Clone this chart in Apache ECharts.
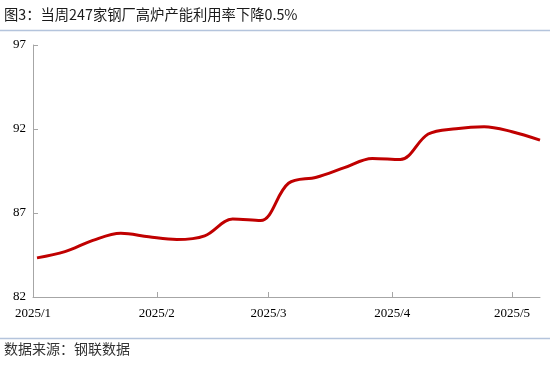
<!DOCTYPE html>
<html><head><meta charset="utf-8">
<script src="https://cdn.jsdelivr.net/npm/echarts@6/dist/echarts.min.js"></script>
<style>html,body{margin:0;padding:0;background:#fff}#c{width:550px;height:366px}</style>
</head><body><div id="c"></div>
<script>
const titleText = '图3：当周247家钢厂高炉产能利用率下降0.5%';
const sourceText = '数据来源：钢联数据';
const dates = ['2025-01-02','2025-01-09','2025-01-16','2025-01-23','2025-01-30','2025-02-06','2025-02-13','2025-02-20','2025-02-27','2025-03-06','2025-03-13','2025-03-20','2025-03-27','2025-04-03','2025-04-10','2025-04-17','2025-04-24','2025-05-01','2025-05-08'];
const values = [84.33,84.70,85.37,85.79,85.58,85.42,85.64,86.64,86.55,88.77,89.13,89.70,90.25,90.18,91.70,92.02,92.14,91.84,91.34];
const tickDates = ['2025-01-01','2025-02-01','2025-03-01','2025-04-01','2025-05-01'];
const tickLabels = ['2025/1','2025/2','2025/3','2025/4','2025/5'];
const axisStart = '2025-01-01';
const axisEnd = '2025-05-08';
const yMin = 82, yMax = 97, yStep = 5;

function dayOffset(s){
  const p = s.split('-').map(Number);
  const q = axisStart.split('-').map(Number);
  return Math.round((Date.UTC(p[0],p[1]-1,p[2]) - Date.UTC(q[0],q[1]-1,q[2]))/86400000);
}
const tickOffsets = tickDates.map(dayOffset);
const seriesData = dates.map((d,i)=>[dayOffset(d), values[i]]);

const chart = echarts.init(document.getElementById('c'), null, {renderer:'canvas'});
chart.setOption({
  animation:false,
  backgroundColor:'#fff',
  grid:{left:33, right:10, top:45, bottom:69},
  xAxis:{
    type:'value', min:0, max:dayOffset(axisEnd),
    axisLine:{show:true, lineStyle:{color:'#A6A6A6', width:1}},
    axisTick:{show:true, inside:true, length:5, customValues:tickOffsets.slice(1), lineStyle:{color:'#A6A6A6'}},
    axisLabel:{customValues:tickOffsets, margin:10, color:'#000', fontFamily:'Liberation Serif', fontSize:13,
      formatter:function(v){ const i = tickOffsets.indexOf(Math.round(v)); return i>=0 ? tickLabels[i] : ''; }},
    splitLine:{show:false}
  },
  yAxis:{
    type:'value', min:yMin, max:yMax, interval:yStep,
    axisLine:{show:true, lineStyle:{color:'#A6A6A6', width:1}},
    axisTick:{show:true, inside:true, length:5, lineStyle:{color:'#A6A6A6'}},
    axisLabel:{margin:7, color:'#000', fontFamily:'Liberation Serif', fontSize:13},
    splitLine:{show:false}
  },
  series:[{
    type:'line', data:seriesData, smooth:0.35, symbol:'none',
    lineStyle:{color:'#C00000', width:3}
  }],
  graphic:[
    {type:'text', left:4, top:7, style:{text:titleText, fontFamily:'Noto Sans CJK SC', fontSize:14.3, fill:'#1a1a1a'}},
    {type:'line', shape:{x1:0,y1:30.5,x2:550,y2:30.5}, style:{stroke:'#B4C4DC', lineWidth:1.5}},
    {type:'line', shape:{x1:0,y1:338.5,x2:550,y2:338.5}, style:{stroke:'#B4C4DC', lineWidth:1.5}},
    {type:'text', left:4, top:342, style:{text:sourceText, fontFamily:'Noto Sans CJK SC', fontSize:14, fill:'#333'}}
  ]
});
</script></body></html>
